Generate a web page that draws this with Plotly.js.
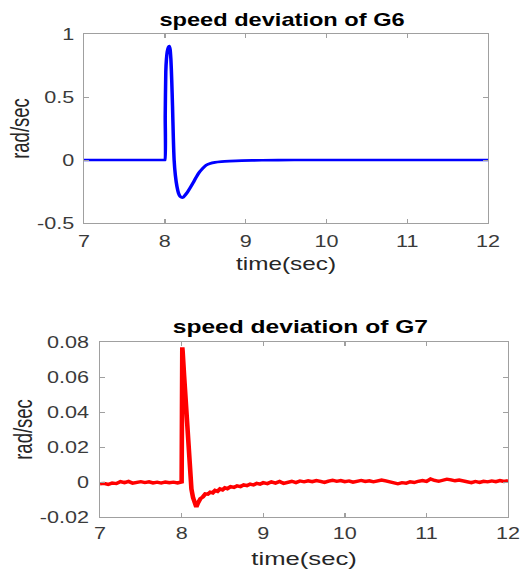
<!DOCTYPE html>
<html>
<head>
<meta charset="utf-8">
<script src="https://cdn.plot.ly/plotly-3.0.1.min.js"></script>
<style>
  html, body { margin: 0; padding: 0; background: #ffffff; overflow: hidden; }
  #wrap { width: 521px; height: 570px; overflow: hidden; }
  #chart { height: 570px; transform-origin: 0 0; }
</style>
</head>
<body>
<div id="wrap"><div id="chart"></div></div>
<script>
// ---- data: speed deviation of G6 (rad/sec) ----
const timeG6 = [7.0, 7.5, 7.99, 8.0, 8.005, 8.012, 8.02, 8.03, 8.045, 8.055, 8.065, 8.075, 8.085,
  8.095, 8.105, 8.115, 8.13, 8.15, 8.17, 8.19, 8.21, 8.23, 8.25, 8.28, 8.31, 8.35, 8.39, 8.43,
  8.47, 8.51, 8.56, 8.62, 8.70, 8.80, 8.95, 9.2, 9.6, 10.0, 11.0, 12.0];
const speedG6 = [0.0, 0.0, 0.0, 0.0, 0.35, 0.70, 0.80, 0.86, 0.895, 0.905, 0.88, 0.80, 0.64,
  0.43, 0.18, 0.0, -0.12, -0.21, -0.265, -0.29, -0.298, -0.295, -0.28, -0.255, -0.225, -0.18, -0.135, -0.095,
  -0.065, -0.042, -0.028, -0.019, -0.013, -0.009, -0.005, -0.002, 0.0, 0.0, 0.0, 0.0];

// ---- data: speed deviation of G7 (rad/sec) ----
const timeG7 = [7.00, 7.05, 7.10, 7.15, 7.20, 7.25, 7.30, 7.35, 7.40, 7.45, 7.50, 7.55, 7.60, 7.65,
  7.70, 7.75, 7.80, 7.85, 7.90, 7.95, 7.99,
  8.000, 8.004, 8.008, 8.012, 8.03, 8.05, 8.07, 8.09, 8.10, 8.12, 8.14, 8.16, 8.18, 8.20, 8.23,
  8.26, 8.29, 8.32, 8.35, 8.38, 8.41, 8.44, 8.47, 8.50, 8.53, 8.56, 8.60, 8.64, 8.68, 8.72, 8.76,
  8.80, 8.84, 8.88, 8.92, 8.96, 9.00,
  9.05, 9.10, 9.15, 9.20, 9.25, 9.30, 9.35, 9.40, 9.45, 9.50, 9.55, 9.60, 9.65, 9.70, 9.75, 9.80,
  9.85, 9.90, 9.95, 10.00, 10.05, 10.10, 10.15, 10.20, 10.25, 10.30, 10.35, 10.40, 10.45, 10.50,
  10.55, 10.60, 10.65, 10.70, 10.75, 10.80, 10.85, 10.90, 10.95, 11.00, 11.05, 11.10, 11.15, 11.20,
  11.25, 11.30, 11.35, 11.40, 11.45, 11.50, 11.55, 11.60, 11.65, 11.70, 11.75, 11.80, 11.85, 11.90,
  11.95, 12.00];
const speedG7 = [-0.0010, -0.0008, -0.0014, -0.0006, -0.0009, 0.0002, -0.0004, 0.0003, -0.0007, -0.0002,
  0.0002, -0.0003, 0.0001, -0.0005, -0.0001, -0.0006, 0.0000, -0.0004, -0.0001, -0.0005, -0.0002,
  0.0000, 0.0400, 0.0770, 0.0750, 0.0610, 0.0450, 0.0290, 0.0120, 0.0050, -0.0040, -0.0090, -0.0125,
  -0.0143, -0.0120, -0.0095,
  -0.0085, -0.0068, -0.0070, -0.0058, -0.0062, -0.0048, -0.0053, -0.0040, -0.0045, -0.0033, -0.0038,
  -0.0027, -0.0031, -0.0022, -0.0026, -0.0016, -0.0021, -0.0012, -0.0017, -0.0008, -0.0012, -0.0004,
  -0.0009, 0.0001, -0.0006, 0.0003, -0.0008, -0.0002, 0.0004, -0.0003, 0.0006, 0.0001, 0.0007, 0.0002,
  0.0008, 0.0003, -0.0002, 0.0005, 0.0010, 0.0004, 0.0008, 0.0002, 0.0006, -0.0001, 0.0004, 0.0009,
  0.0003, 0.0007, 0.0001, 0.0005, 0.0011, 0.0006, 0.0002, -0.0006, -0.0010, -0.0004, -0.0007, 0.0001,
  -0.0003, 0.0004, 0.0008, 0.0003, 0.0017, 0.0009, 0.0004, 0.0010, 0.0016, 0.0012, 0.0007, 0.0011,
  0.0005, 0.0001, -0.0004, 0.0003, -0.0002, 0.0004, 0.0001, 0.0006, 0.0002, 0.0008, 0.0003, 0.0007];

// ---- titles and tick labels ----
const titleG6 = 'speed deviation of G6';
const titleG7 = 'speed deviation of G7';
const xTitle = 'time(sec)';
const yTitle = 'rad/sec';
const xTickVals = [7, 8, 9, 10, 11, 12];
const xTickText = ['7', '8', '9', '10', '11', '12'];
const yTickValsG6 = [-0.5, 0, 0.5, 1];
const yTickTextG6 = ['-0.5', '0', '0.5', '1'];
const yTickValsG7 = [-0.02, 0, 0.02, 0.04, 0.06, 0.08];
const yTickTextG7 = ['-0.02', '0', '0.02', '0.04', '0.06', '0.08'];

// horizontal stretch of the reference picture
const STRETCH = 1.35;
const W = 521 / STRETCH;
const chartEl = document.getElementById('chart');
chartEl.style.width = W + 'px';
chartEl.style.transform = 'scaleX(' + STRETCH + ')';

const FONT = 'Liberation Sans, Arial, Helvetica, sans-serif';
const axisCommon = {
  showline: true, linecolor: '#a0a0a0', linewidth: 1, mirror: 'ticks',
  ticks: 'inside', ticklen: 4, tickcolor: '#a0a0a0', tickwidth: 1,
  showgrid: false, zeroline: false, fixedrange: true,
  tickfont: { family: FONT, size: 16, color: '#3a3a3a' }
};

const traces = [
  { x: timeG6, y: speedG6, type: 'scatter', mode: 'lines', xaxis: 'x', yaxis: 'y',
    line: { color: '#0000ff', width: 2.6, shape: 'spline', smoothing: 0.6 }, hoverinfo: 'skip', showlegend: false },
  { x: timeG7, y: speedG7, type: 'scatter', mode: 'lines', xaxis: 'x2', yaxis: 'y2',
    line: { color: '#ff0000', width: 3.4 }, hoverinfo: 'skip', showlegend: false }
];

const layout = {
  width: W, height: 570,
  margin: { l: 0, r: 0, t: 0, b: 0 },
  paper_bgcolor: '#ffffff', plot_bgcolor: '#ffffff',
  showlegend: false,
  xaxis: Object.assign({}, axisCommon, {
    domain: [84 / 521, 488 / 521], range: [7, 12], anchor: 'y',
    tickvals: xTickVals, ticktext: xTickText, ticklabelstandoff: 4,
    title: { text: xTitle, font: { family: FONT, size: 18, color: '#262626' }, standoff: 8 }
  }),
  yaxis: Object.assign({}, axisCommon, {
    domain: [(570 - 223) / 570, (570 - 34) / 570], range: [-0.5, 1], anchor: 'x',
    tickvals: yTickValsG6, ticktext: yTickTextG6, ticklabelstandoff: 3,
    title: { text: yTitle, font: { family: FONT, size: 18.5, color: '#262626' }, standoff: 0 }
  }),
  xaxis2: Object.assign({}, axisCommon, {
    domain: [100 / 521, 508 / 521], range: [7, 12], anchor: 'y2',
    tickvals: xTickVals, ticktext: xTickText, ticklabelstandoff: 2,
    title: { text: xTitle, font: { family: FONT, size: 19, color: '#262626' }, standoff: 10 }
  }),
  yaxis2: Object.assign({}, axisCommon, {
    domain: [(570 - 517) / 570, (570 - 342) / 570], range: [-0.02, 0.08], anchor: 'x2',
    tickvals: yTickValsG7, ticktext: yTickTextG7, ticklabelstandoff: 4,
    title: { text: yTitle, font: { family: FONT, size: 18.5, color: '#262626' }, standoff: 0 }
  }),
  annotations: [
    { text: titleG6, xref: 'paper', yref: 'paper', x: 281.5 / 521, y: 1 - 20 / 570,
      xanchor: 'center', yanchor: 'middle', showarrow: false,
      font: { family: FONT, size: 17.5, color: '#000000', weight: 'bold' } },
    { text: titleG7, xref: 'paper', yref: 'paper', x: 300.5 / 521, y: 1 - 327 / 570,
      xanchor: 'center', yanchor: 'middle', showarrow: false,
      font: { family: FONT, size: 18.2, color: '#000000', weight: 'bold' } }
  ]
};

Plotly.newPlot(chartEl, traces, layout, { displayModeBar: false, staticPlot: true });
</script>
</body>
</html>
